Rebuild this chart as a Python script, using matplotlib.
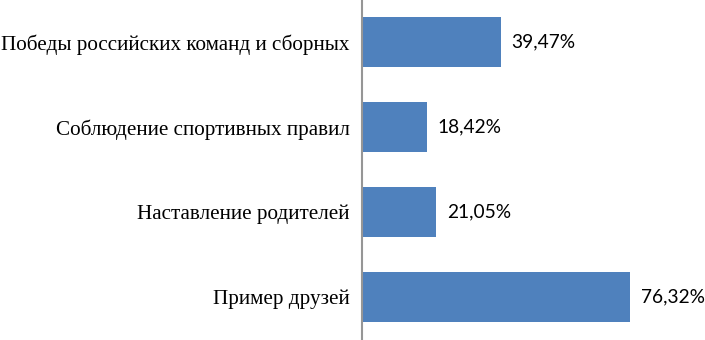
import matplotlib
matplotlib.use("Agg")
import matplotlib.pyplot as plt

categories = ["Пример друзей", "Наставление родителей",
              "Соблюдение спортивных правил", "Победы российских команд и сборных"]
values = [76.32, 21.05, 18.42, 39.47]
value_labels = ["76,32%", "21,05%", "18,42%", "39,47%"]

fig = plt.figure(figsize=(7.05, 3.4), dpi=100)
ax = fig.add_axes([362/705, 0, 320/705, 1])
y = list(range(len(categories)))
ax.barh(y, values, height=0.58, color="#4F81BD", zorder=2)
ax.set_ylim(-0.506, 3.494)
ax.set_xlim(0, 320/3.51)
ax.set_yticks(y)
ax.set_yticklabels(categories, fontsize=15.2, family=["Liberation Serif"])
ax.tick_params(axis="y", length=0, pad=9)
ax.set_xticks([])
for s in ["top", "right", "bottom"]:
    ax.spines[s].set_visible(False)
ax.spines["left"].set_color("#969696")
ax.spines["left"].set_linewidth(1.5)
for yi, v, lab in zip(y, values, value_labels):
    ax.annotate(lab, (v, yi), xytext=(8, 0), textcoords="offset points",
                va="center", ha="left", fontsize=13.8, family=["Lato"], color="black")
fig.savefig("out.png", dpi=100)
